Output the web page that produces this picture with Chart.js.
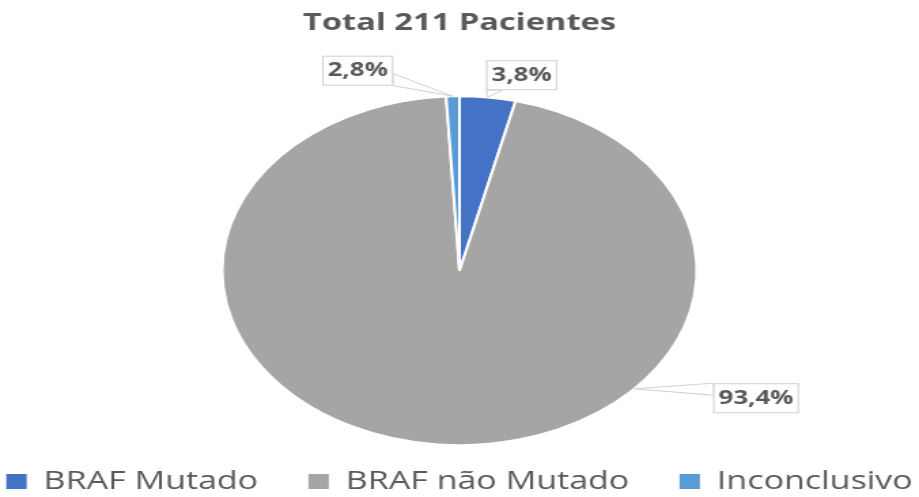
<!DOCTYPE html>
<html>
<head>
<meta charset="utf-8">
<script src="https://cdn.jsdelivr.net/npm/chart.js@4.4.0/dist/chart.umd.min.js"></script>
<style>
  html, body { margin: 0; padding: 0; background: #fff; }
</style>
</head>
<body>
<!-- drawn narrow and shown wide, like the stretched original -->
<canvas id="pieChart" width="676" height="497" style="width:919px;height:497px"></canvas>
<script>
const categories = ['BRAF Mutado', 'BRAF não Mutado', 'Inconclusivo'];
const sliceValues = [3.8, 95.3, 0.9];
const valueLabels = ['3,8%', '93,4%', '2,8%'];

const textColor = '#595959';
const fontFamily = "'Open Sans', sans-serif";

// callout boxes with a thin pointer, like the Excel data labels
const calloutPlugin = {
    id: 'callouts',
    afterDatasetsDraw(chart, args, opts) {
        const ctx = chart.ctx;
        const arcs = chart.getDatasetMeta(0).data;
        const clamp = (v, lo, hi) => Math.min(Math.max(v, lo), hi);
        ctx.save();
        ctx.font = `bold ${opts.fontSize}px ${fontFamily}`;
        arcs.forEach((arc, i) => {
            const p = opts.place[i];
            const {x, y, startAngle, endAngle, outerRadius} =
                arc.getProps(['x', 'y', 'startAngle', 'endAngle', 'outerRadius'], true);
            const a = p.angle !== undefined ? p.angle * Math.PI / 180 : (startAngle + endAngle) / 2;
            const ax = x + Math.cos(a) * outerRadius;
            const ay = y + Math.sin(a) * outerRadius;

            const text = valueLabels[i];
            const w = ctx.measureText(text).width + opts.padX * 2;
            const h = opts.boxHeight;
            const cx = x + p.dx * outerRadius;
            const cy = y + p.dy * outerRadius;
            const left = cx - w / 2, right = cx + w / 2;
            const top = cy - h / 2, bottom = cy + h / 2;

            const hw = 6;
            let b1, b2;
            if (ax < left || ax > right) {
                const ex = ax < left ? left : right;
                const m = clamp(ay, top + hw, bottom - hw);
                b1 = [ex, m - hw]; b2 = [ex, m + hw];
            } else {
                const ey = ay > bottom ? bottom : top;
                const m = clamp(ax, left + hw, right - hw);
                b1 = [m - hw, ey]; b2 = [m + hw, ey];
            }

            ctx.lineWidth = 1;
            ctx.strokeStyle = opts.borderColor;
            ctx.fillStyle = '#ffffff';
            ctx.beginPath();
            ctx.moveTo(b1[0], b1[1]);
            ctx.lineTo(ax, ay);
            ctx.lineTo(b2[0], b2[1]);
            ctx.closePath();
            ctx.fill();
            ctx.stroke();

            ctx.fillRect(left, top, w, h);
            ctx.strokeRect(left + 0.5, top + 0.5, w - 1, h - 1);

            ctx.fillStyle = textColor;
            ctx.textAlign = 'center';
            ctx.textBaseline = 'middle';
            ctx.fillText(text, cx, cy + opts.textShift);
        });
        ctx.restore();
    }
};

const ctx = document.getElementById('pieChart').getContext('2d');
new Chart(ctx, {
    type: 'pie',
    data: {
        labels: categories,
        datasets: [{
            data: sliceValues,
            backgroundColor: ['#4472C4', '#A5A5A5', '#5B9BD5'],
            borderColor: '#ffffff',
            borderWidth: 2,
            radius: 174.5
        }]
    },
    options: {
        responsive: false,
        animation: false,
        events: [],
        // negative side padding so the wide legend stays on one row
        layout: { padding: { left: -45, right: -45, top: 0, bottom: 0 } },
        plugins: {
            title: {
                display: true,
                text: 'Total 211 Pacientes',
                color: textColor,
                font: { family: fontFamily, size: 24, weight: 'bold' },
                padding: { top: 9, bottom: 71.5 }
            },
            legend: {
                position: 'bottom',
                maxHeight: 65,
                labels: {
                    color: textColor,
                    font: { family: fontFamily, size: 25 },
                    boxWidth: 15,
                    boxHeight: 15,
                    padding: 37,
                    generateLabels: chart =>
                        Chart.overrides.pie.plugins.legend.labels.generateLabels(chart)
                            .map(item => ({ ...item, lineWidth: 0 }))
                }
            },
            tooltip: { enabled: false },
            callouts: {
                fontSize: 19,
                padX: 4,
                boxHeight: 30,
                textShift: 0,
                borderColor: '#d0d0d0',
                place: [
                    { dx: 0.262, dy: -1.120 },
                    { dx: 1.250, dy: 0.731, angle: 42.6 },
                    { dx: -0.429, dy: -1.146 }
                ]
            }
        }
    },
    plugins: [calloutPlugin]
});
</script>
</body>
</html>
